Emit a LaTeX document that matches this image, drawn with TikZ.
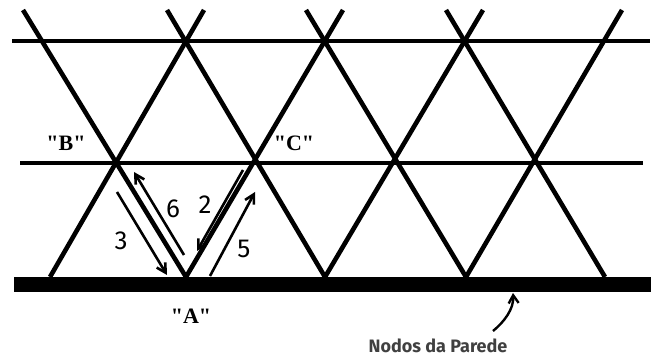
\documentclass[tikz,border=0pt]{standalone}
\usepackage{fontspec}
\setmainfont{Liberation Serif}[Ligatures=TeXOff]
\newfontfamily\labelfont{Fira Sans}
\usetikzlibrary{arrows.meta}

\begin{document}
\begin{tikzpicture}[x=0.5pt,y=-0.5pt,
    bar/.style={line width=2.3pt},
    path arrow/.style={line width=1.3pt,-{Straight Barb[length=4.5pt,width=5pt]}},
    quoted/.style={font=\fontsize{11}{13}\selectfont\bfseries},
    step label/.style={font=\labelfont\fontsize{13}{15}\selectfont}]
    \useasboundingbox (0,0) rectangle (651,356);
    % horizontal members and the wall
    \draw[bar] (12,41) -- (650,41);
    \draw[bar] (20,163) -- (643,163);
    \fill (14,277) rectangle (651,292);
    % diagonals going down to the right
    \draw[bar] (23,10) -- (186,277);
    \draw[bar] (167,10) -- (325,277);
    \draw[bar] (306,10) -- (466,277);
    \draw[bar] (446,10) -- (605,277);
    % diagonals going up to the right
    \draw[bar] (50,277) -- (204,10);
    \draw[bar] (186,277) -- (343,10);
    \draw[bar] (325,277) -- (483,10);
    \draw[bar] (466,277) -- (622,10);
    % nodes of the mesh
    \node[quoted] (B) at (66,143) {"B"};
    \node[quoted] (C) at (294,143) {"C"};
    \node[quoted] (A) at (191,316) {"A"};
    % paths between the nodes
    \coordinate (s3) at (117,192);  \coordinate (e3) at (167,275);
    \coordinate (s6) at (184,255);  \coordinate (e6) at (134,172);
    \coordinate (s2) at (243,170);  \coordinate (e2) at (197,251);
    \coordinate (s5) at (210,276);  \coordinate (e5) at (255,192);
    \draw[path arrow] (s3) -- (e3);
    \draw[path arrow] (s6) -- (e6);
    \draw[path arrow] (s2) -- (e2);
    \draw[path arrow] (s5) -- (e5);
    \node[step label] (n3) at (121,241) {3};
    \node[step label] (n6) at (173,209) {6};
    \node[step label] (n2) at (205,205) {2};
    \node[step label] (n5) at (244,249) {5};
    % wall nodes
    \node[font=\labelfont\fontsize{9}{11}\selectfont\bfseries,text=black!75] (parede) at (438,346) {Nodos da Parede};
    \coordinate (tail) at (493,331);
    \coordinate (tip) at (513,293);
    \draw[line width=1.2pt,-{Straight Barb[length=4pt,width=5pt]}] (tail) .. controls (504,322) and (514,309) .. (tip);
  \end{tikzpicture}
\end{document}
